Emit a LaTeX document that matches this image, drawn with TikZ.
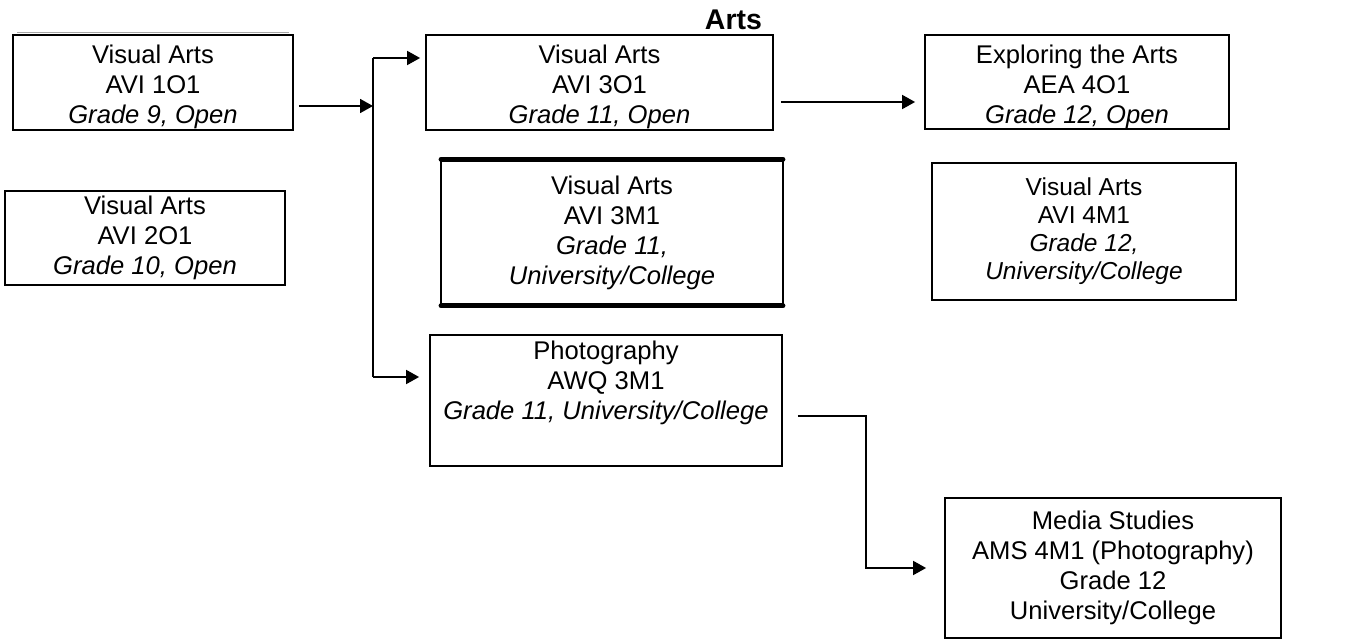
\documentclass[tikz,border=0pt]{standalone}
\usepackage{fontspec}
\setmainfont{Liberation Sans}
\usetikzlibrary{arrows.meta,calc}
\newcommand{\topstrut}{\rule{0pt}{28pt}}
\tikzset{
  box/.style={draw, line width=1.8pt, inner sep=0pt, align=center,
    font=\fontsize{25.6}{30}\selectfont},
  conn/.style={line width=1.8pt},
  arr/.style={conn, -{Triangle[length=13pt,width=14pt]}},
}
\begin{document}
\begin{tikzpicture}[x=1pt,y=-1pt]
\useasboundingbox (0,0) rectangle (1361,639);
% title
\node[font=\fontsize{28.5}{32}\bfseries\selectfont, inner sep=0pt] (title) at (733.5,20) {Arts};
% boxes
\node[box, minimum width=280pt, minimum height=95pt] (b1) at (153,82.5)
  {\topstrut Visual Arts\\AVI 1O1\\\textit{Grade 9, Open}};
\draw[gray!70, line width=1pt] ($(b1.north west)+(5,-1.8)$) -- ($(b1.north east)+(-5,-1.8)$);
\node[box, minimum width=280pt, minimum height=94pt] (b2) at (145,238)
  {Visual Arts\\AVI 2O1\\\textit{Grade 10, Open}};
\node[box, minimum width=347pt, minimum height=95pt] (b3) at (599.5,82.5)
  {\topstrut Visual Arts\\AVI 3O1\\\textit{Grade 11, Open}};
\node[box, minimum width=304pt, minimum height=94pt] (b4) at (1077,82)
  {\topstrut Exploring the Arts\\AEA 4O1\\\textit{Grade 12, Open}};
\node[box, draw=none, minimum width=340pt, minimum height=145pt] (b5) at (612,232.5)
  {Visual Arts\\AVI 3M1\\\textit{Grade 11,}\\\textit{University/College}};
\draw[line width=1.8pt] (b5.north west) -- (b5.south west);
\draw[line width=1.8pt] (b5.north east) -- (b5.south east);
\draw[line width=5pt, line cap=round] (b5.north west) -- (b5.north east);
\draw[line width=5pt, line cap=round] (b5.south west) -- (b5.south east);
\node[box, font=\fontsize{24.5}{28}\selectfont, minimum width=304pt, minimum height=137pt] (b6) at (1084,231.5)
  {Visual Arts\\AVI 4M1\\\textit{Grade 12,}\\\textit{University/College}};
\node[box, minimum width=352pt, minimum height=131pt,
  label={[inner sep=0pt, anchor=north, yshift=-7pt, align=center,
          font=\fontsize{25.6}{30}\selectfont]north:{Photography\\AWQ 3M1\\\textit{Grade 11, University/College}}}]
  (b7) at (606,400.5) {};
\node[box, minimum width=336pt, minimum height=140pt] (b8) at (1113,568)
  {Media Studies\\AMS 4M1 (Photography)\\Grade 12\\University/College};
% connectors
\coordinate (j1) at (373,106);
\coordinate (jt) at (373,58);
\coordinate (jb) at (373,377);
\coordinate (k1) at (866,416);
\coordinate (k2) at (866,568);
\draw[arr, shorten <=5pt] (b1.east |- j1) -- (j1);
\draw[conn] (jt) -- (jb);
\draw[arr, shorten >=5pt] (jt) -- (b3.west |- jt);
\draw[arr, shorten >=10pt] (jb) -- (b7.west |- jb);
\draw[arr, shorten <=7pt, shorten >=9pt] (b3.east |- 0,102) -- (b4.west |- 0,102);
\draw[arr, shorten <=15pt, shorten >=18pt] (b7.east |- k1) -- (k1) -- (k2) -- (b8.west |- k2);
\end{tikzpicture}
\end{document}
